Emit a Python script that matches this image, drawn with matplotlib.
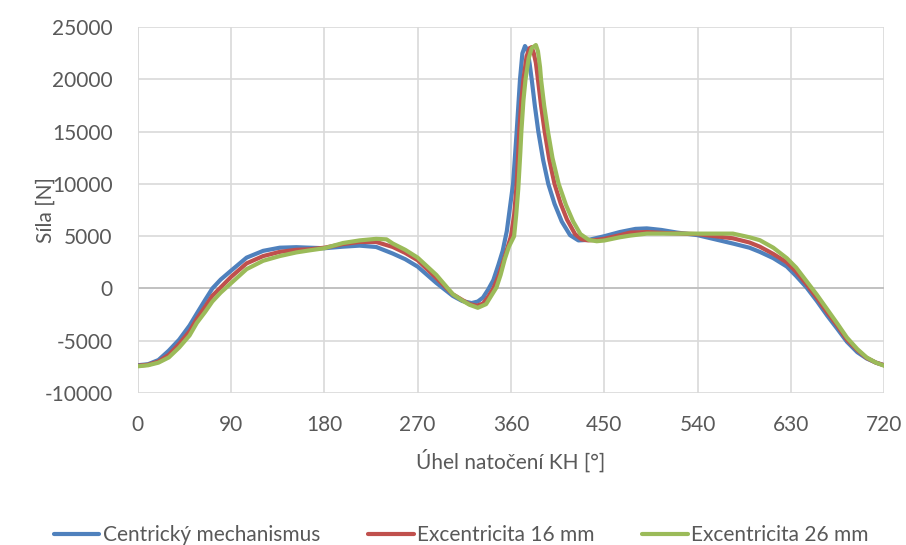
import numpy as np
import matplotlib.pyplot as plt

# úhel natočení [°] a síla [N]
blue_deg = [0, 10, 20, 30, 40, 50, 57, 65, 72, 80, 90, 105, 121, 137, 153, 166, 180, 198, 214, 230,
            246, 258, 270, 288, 304, 313, 322, 328, 333, 338, 343, 348, 352, 356, 360, 362, 365.5,
            368.7, 371, 373.5, 376, 378, 380, 383, 386.4, 391, 396, 402, 409, 417, 425, 435, 450,
            465, 480, 491, 505, 520, 540, 557, 574, 590, 600, 613, 626, 635, 645, 655, 665, 675,
            684, 694, 703, 712, 720]
blue_f = [-7350, -7250, -6850, -5950, -4900, -3550, -2400, -1100, 0, 850, 1700, 2950, 3600, 3900,
          3950, 3900, 3850, 4000, 4100, 3970, 3340, 2800, 2090, 530, -720, -1200, -1400, -1250,
          -875, -100, 800, 2300, 3600, 5500, 8500, 10000, 15000, 20000, 22500, 23200, 22800, 21500,
          20000, 17500, 15000, 12300, 10000, 8100, 6400, 5100, 4600, 4650, 5000, 5400, 5700, 5750,
          5600, 5350, 5100, 4700, 4300, 3900, 3500, 2900, 2100, 1200, 100, -1200, -2600, -3900,
          -5100, -6100, -6700, -7100, -7350]

red_deg = [0, 10, 20, 30, 40, 50, 57, 65, 72, 80, 90, 105, 121, 137, 153, 166, 180, 198, 214, 230,
           246, 258, 270, 288, 304, 313, 320, 327, 333, 338, 343, 348, 352, 356, 360, 363, 365.5,
           368, 370, 372, 375, 378, 380, 382, 384, 386, 389, 392.5, 397, 402, 408, 414, 421.8, 428,
           434.5, 443, 450, 465, 475, 491, 510, 540, 557, 574, 590, 600, 613, 626, 635, 645, 655,
           665, 675, 684, 694, 703, 712, 720]
red_f = [-7400, -7300, -7000, -6350, -5300, -4100, -2900, -1750, -700, 100, 1100, 2400, 3100, 3500,
         3700, 3750, 3900, 4250, 4450, 4450, 3970, 3400, 2700, 1000, -560, -1100, -1500, -1650,
         -1450, -800, 0, 1200, 2400, 3700, 5000, 7000, 10000, 15000, 18000, 20000, 22200, 23000,
         23100, 22500, 21600, 20000, 17500, 15000, 12300, 10000, 8100, 6600, 5200, 4700, 4600,
         4650, 4750, 5100, 5350, 5400, 5300, 5200, 5000, 4800, 4400, 4000, 3300, 2500, 1600, 400,
         -900, -2300, -3600, -4900, -5900, -6650, -7100, -7350]

green_deg = [0, 10, 20, 30, 40, 50, 57, 65, 72, 80, 90, 105, 121, 137, 153, 166, 180, 198, 214, 230,
             240, 246, 258, 270, 288, 304, 313, 320, 328, 336, 341, 346, 350, 354, 358, 363, 365,
             367, 369, 370, 372, 374, 377, 380, 384, 386, 388, 389, 392, 395.7, 400, 406, 413, 420,
             427, 435, 442.7, 450, 465, 475, 491, 510, 540, 557, 574, 590, 600, 613, 626, 635, 645,
             655, 665, 675, 684, 694, 703, 712, 720]
green_f = [-7450, -7350, -7100, -6600, -5650, -4500, -3300, -2250, -1250, -400, 500, 1850, 2650,
           3100, 3450, 3650, 3850, 4350, 4600, 4750, 4700, 4300, 3700, 2950, 1300, -560, -1150,
           -1560, -1850, -1500, -700, 100, 1300, 2800, 4000, 5000, 7000, 9500, 13000, 15000, 18000,
           20000, 22000, 23000, 23300, 22700, 21200, 20000, 17500, 15000, 12500, 10000, 8000, 6400,
           5200, 4650, 4520, 4590, 4900, 5060, 5250, 5250, 5250, 5250, 5250, 4900, 4620, 3900,
           2900, 2000, 700, -600, -2000, -3400, -4700, -5800, -6600, -7100, -7400]

labels = ['Centrický mechanismus', 'Excentricita 16 mm', 'Excentricita 26 mm']
colors = ['#4F81BD', '#C0504D', '#9BBB59']

plt.rcParams['font.family'] = ['Lato', 'DejaVu Sans']
plt.rcParams['axes.unicode_minus'] = False
txt = '#595959'

fig = plt.figure(figsize=(9.06, 5.45), dpi=100)
ax = fig.add_axes([0.152, 0.279, 0.824, 0.671])

for x, y, lab, c in zip([blue_deg, red_deg, green_deg], [blue_f, red_f, green_f], labels, colors):
    ax.plot(x, y, color=c, lw=3.0, label=lab, solid_capstyle='round', solid_joinstyle='round')

ax.set_xlim(0, 720)
ax.set_ylim(-10000, 25000)
ax.set_xticks(np.arange(0, 721, 90))
ax.set_yticks(np.arange(-10000, 25001, 5000))
ax.grid(True, color='#d9d9d9', lw=1.2)
ax.set_axisbelow(True)
ax.axhline(0, color='#bfbfbf', lw=1.3, zorder=1)
for s in ax.spines.values():
    s.set_visible(False)
ax.axvline(0, color='#d9d9d9', lw=1.2, zorder=1)
ax.tick_params(length=0, labelsize=15, labelcolor=txt)
ax.tick_params(axis='x', pad=16)
ax.tick_params(axis='y', pad=18)
ax.set_xlabel('Úhel natočení KH [°]', fontsize=15, color=txt, labelpad=10)
ax.set_ylabel('Síla [N]', fontsize=15, color=txt, labelpad=-8)

fig.legend(loc='lower center', bbox_to_anchor=(0.509, -0.035), ncol=3, frameon=False,
           fontsize=15, labelcolor=txt, handlelength=2.2, columnspacing=2.3, handletextpad=0.15)

fig.savefig('out.png', dpi=100)
